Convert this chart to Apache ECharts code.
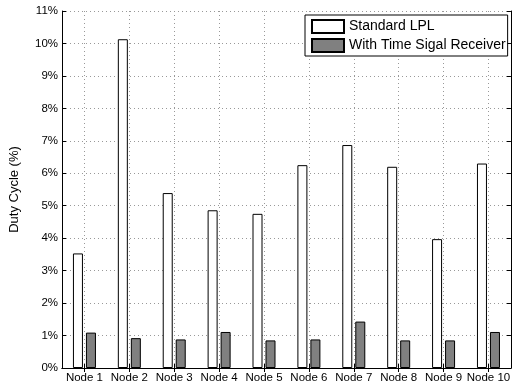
<!DOCTYPE html>
<html>
<head>
<meta charset="utf-8">
<script src="https://cdn.jsdelivr.net/npm/echarts@6/dist/echarts.min.js"></script>
<style>
html,body{margin:0;padding:0;background:#fff;}
#chart{width:513px;height:389px;}
</style>
</head>
<body>
<div id="chart"></div>
<script>
const categories = ['Node 1','Node 2','Node 3','Node 4','Node 5','Node 6','Node 7','Node 8','Node 9','Node 10'];
const standardLPL = [3.53, 10.13, 5.39, 4.86, 4.75, 6.25, 6.87, 6.2, 3.97, 6.3];
const withReceiver = [1.09, 0.92, 0.88, 1.11, 0.85, 0.88, 1.43, 0.85, 0.85, 1.11];
const yTicks = [0,1,2,3,4,5,6,7,8,9,10,11];

const FONT = 'Liberation Sans';
const halfSlots = [];
for (let i = 0; i <= categories.length * 2; i++) halfSlots.push('');

const chart = echarts.init(document.getElementById('chart'));
chart.setOption({
  animation: false,
  textStyle: { fontFamily: FONT },
  grid: { left: 59, right: 1, top: 11, bottom: 21, containLabel: false },
  legend: {
    orient: 'vertical',
    left: 305, top: 15,
    padding: [4, 2, 3, 6],
    itemWidth: 32, itemHeight: 13, itemGap: 4,
    icon: 'rect',
    backgroundColor: '#fff',
    borderColor: '#000', borderWidth: 1,
    textStyle: { fontFamily: FONT, fontSize: 14, color: '#000' },
    data: ['Standard LPL', 'With Time Sigal Receiver']
  },
  xAxis: [{
    type: 'category',
    data: categories,
    position: 'bottom',
    axisLine: { lineStyle: { color: '#000', width: 1 } },
    axisTick: { show: true, alignWithLabel: true, inside: true, length: 4, lineStyle: { color: '#000' } },
    axisLabel: { color: '#000', fontSize: 11.5, margin: 4, interval: 0, fontFamily: FONT },
    splitLine: { show: false }
  }, {
    type: 'category',
    data: halfSlots,
    boundaryGap: false,
    position: 'top',
    axisLine: { show: true, lineStyle: { color: '#000', width: 1 } },
    axisTick: { show: true, inside: true, length: 4, interval: function (i) { return i % 2 === 1; }, lineStyle: { color: '#000' } },
    axisLabel: { show: false },
    splitLine: { show: true, interval: function (i) { return i % 2 === 1; }, lineStyle: { color: '#999', type: [1, 3], width: 1 } }
  }],
  yAxis: [{
    type: 'value',
    min: yTicks[0], max: yTicks[yTicks.length - 1], interval: 1,
    name: 'Duty Cycle (%)',
    nameLocation: 'middle',
    nameGap: 41,
    nameTextStyle: { color: '#000', fontSize: 13, fontFamily: FONT },
    axisLine: { show: true, lineStyle: { color: '#000', width: 1 } },
    axisTick: { show: true, inside: true, length: 4, lineStyle: { color: '#000' } },
    axisLabel: { color: '#000', fontSize: 11.5, margin: 4, formatter: '{value}%', fontFamily: FONT },
    splitLine: { show: true, lineStyle: { color: '#999', type: [1, 3], width: 1 } }
  }, {
    type: 'value',
    min: yTicks[0], max: yTicks[yTicks.length - 1], interval: 1,
    position: 'right',
    axisLine: { show: true, lineStyle: { color: '#000', width: 1 } },
    axisTick: { show: true, inside: true, length: 4, lineStyle: { color: '#000' } },
    axisLabel: { show: false },
    splitLine: { show: false }
  }],
  series: [{
    name: 'Standard LPL',
    type: 'bar',
    xAxisIndex: 0, yAxisIndex: 0,
    data: standardLPL,
    barWidth: 10,
    barGap: '30%',
    itemStyle: { color: '#fff', borderColor: '#000', borderWidth: 1 }
  }, {
    name: 'With Time Sigal Receiver',
    type: 'bar',
    xAxisIndex: 0, yAxisIndex: 0,
    data: withReceiver,
    barWidth: 10,
    barGap: '30%',
    itemStyle: { color: '#808080', borderColor: '#000', borderWidth: 1 }
  }]
});
</script>
</body>
</html>
